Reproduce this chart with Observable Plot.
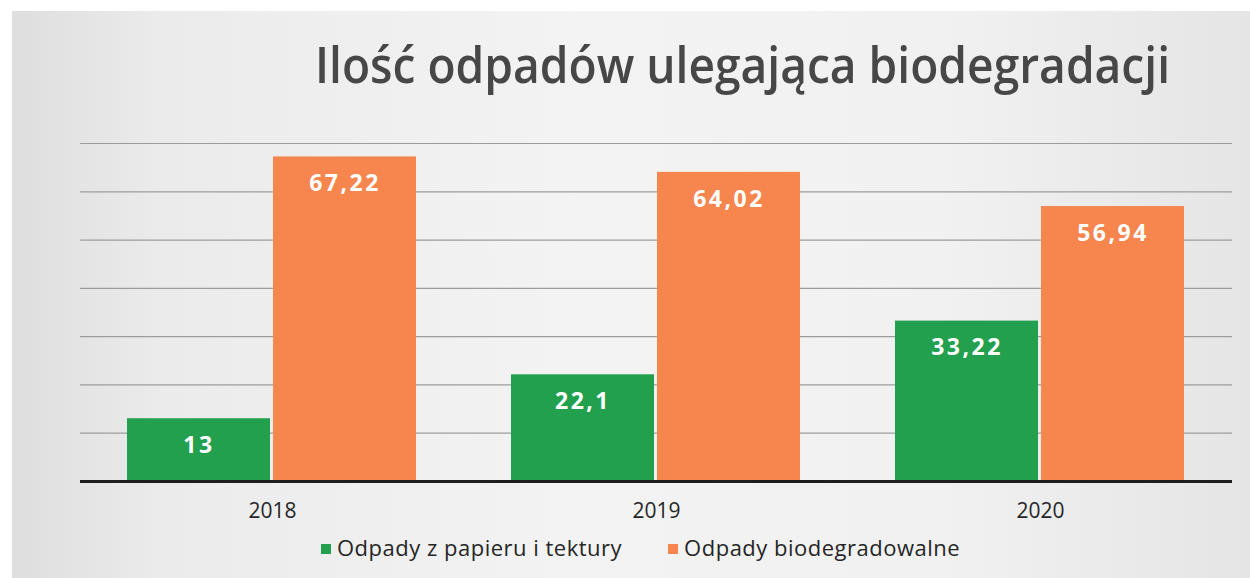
<!DOCTYPE html>
<html>
<head>
<meta charset="utf-8">
<script src="https://cdn.jsdelivr.net/npm/d3@7"></script>
<script src="https://cdn.jsdelivr.net/npm/@observablehq/plot@0.6"></script>
<style>
  html, body { margin: 0; padding: 0; background: #ffffff; }
  body { width: 1250px; height: 578px; overflow: hidden; font-family: "Open Sans", sans-serif; }
  #wrap { position: relative; width: 1250px; height: 578px; }
  #bg { position: absolute; left: 12px; top: 11px; right: 0; bottom: 0;
        background: linear-gradient(90deg, #dedede 0%, #ebebeb 12%, #f3f3f3 45%, #f1f1f1 75%, #e5e5e5 100%); }
  #title { position: absolute; left: 315px; top: 30px; white-space: nowrap;
           font-size: 50px; font-weight: 600; color: #474747; transform-origin: 0 0; }
  #chart { position: absolute; left: 0; top: 110px; }
  #legend { position: absolute; left: 321px; top: 532px; font-size: 22px; letter-spacing: 0.5px; color: #262626; white-space: nowrap; }
  #legend span.sw { display: inline-block; width: 10px; height: 10px; margin-right: 6px; vertical-align: 2px; }
  #legend span.item { margin-right: 46px; }
</style>
</head>
<body>
<div id="wrap">
  <div id="bg"></div>
  <div id="title">Ilość odpadów ulegająca biodegradacji</div>
  <div id="chart"></div>
  <div id="legend"></div>
</div>
<script>
const years = ["2018", "2019", "2020"];
const seriesNames = ["Odpady z papieru i tektury", "Odpady biodegradowalne"];
const paperValues = [13, 22.1, 33.22];
const bioValues = [67.22, 64.02, 56.94];
const gridValues = [10, 20, 30, 40, 50, 60, 70];
const colors = ["#22a04d", "#f6854e"];

const data = years.flatMap((year, i) => [
  {year, series: seriesNames[0], value: paperValues[i]},
  {year, series: seriesNames[1], value: bioValues[i]}
]);
const fmt = v => String(v).replace(".", ",");

const chart = Plot.plot({
  width: 1250,
  height: 420,
  marginLeft: 80,
  marginRight: 18,
  marginTop: 33,
  marginBottom: 49,
  style: {fontSize: "21px", fontFamily: "'Open Sans', sans-serif", color: "#262626", background: "transparent", overflow: "visible"},
  fx: {domain: years, padding: 0, label: null, axis: "bottom", tickSize: 0, tickPadding: 22},
  x: {domain: seriesNames, paddingInner: 0.0205, paddingOuter: 0.325, axis: null},
  y: {domain: [0, 70], axis: null},
  color: {domain: seriesNames, range: colors},
  marks: [
    Plot.ruleY(gridValues, {stroke: "#9c9c9c", strokeWidth: 1.2}),
    Plot.barY(data, {fx: "year", x: "series", y: "value", fill: "series"}),
    Plot.ruleY([0], {stroke: "#1e1e1e", strokeWidth: 3}),
    Plot.text(data, {fx: "year", x: "series", y: "value", text: d => fmt(d.value), fill: "white",
      fontWeight: "bold", fontSize: 23, dy: 27})
  ]
});
document.getElementById("chart").appendChild(chart);
chart.querySelectorAll('g[aria-label="text"]').forEach(g => g.setAttribute("letter-spacing", "2.5px"));

const legend = document.getElementById("legend");
seriesNames.forEach((name, i) => {
  const item = document.createElement("span");
  item.className = "item";
  const sw = document.createElement("span");
  sw.className = "sw";
  sw.style.background = colors[i];
  item.appendChild(sw);
  item.appendChild(document.createTextNode(name));
  legend.appendChild(item);
});

const title = document.getElementById("title");
const w = title.getBoundingClientRect().width;
title.style.transform = `scaleX(${855 / w})`;
</script>
</body>
</html>
